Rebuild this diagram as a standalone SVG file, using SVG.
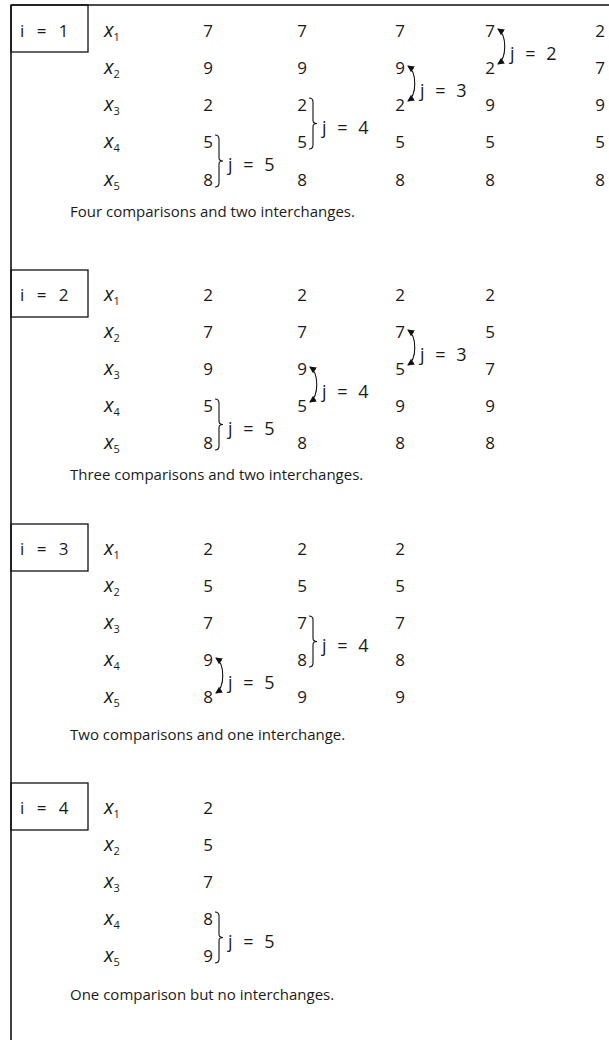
<svg xmlns="http://www.w3.org/2000/svg" width="609" height="1040" viewBox="0 0 609 1040">
<defs>
<style>
text{font-family:"Open Sans","Noto Sans","Liberation Sans",sans-serif;fill:#1a1a1a}
.d{font-size:17px;text-anchor:middle}
.xl{font-size:20px;font-style:italic}
.sub{font-size:11px;font-style:normal}
.lab{font-size:18px;word-spacing:6px}
.ib{font-size:17px;word-spacing:8px}
.s{font-size:15px}
.frame{fill:none;stroke:#111;stroke-width:1.6}
.box{fill:none;stroke:#111;stroke-width:1.3}
.br{fill:none;stroke:#111;stroke-width:1.1}
.ar{fill:none;stroke:#111;stroke-width:1.1;marker-start:url(#ah);marker-end:url(#ah)}
</style>
<marker id="ah" markerUnits="userSpaceOnUse" markerWidth="8" markerHeight="8" refX="6" refY="3.5" orient="auto-start-reverse"><path d="M0,0 L7,3.5 L0,7 z" fill="#111"/></marker>
</defs>
<rect width="609" height="1040" fill="#fff"/>
<g id="frame">
<path class="frame" d="M11,5 H609 M11,5 V1040"/>
</g>

<!-- Section 1 -->
<g id="pass1">
<g id="box1"><rect class="box" x="11" y="5" width="77" height="47"/><text class="ib" x="20" y="37">i = 1</text></g>
<g id="labels1">
<text x="104" y="37"><tspan class="xl">x</tspan><tspan class="sub" dy="4">1</tspan></text>
<text x="104" y="74"><tspan class="xl">x</tspan><tspan class="sub" dy="4">2</tspan></text>
<text x="104" y="111"><tspan class="xl">x</tspan><tspan class="sub" dy="4">3</tspan></text>
<text x="104" y="148"><tspan class="xl">x</tspan><tspan class="sub" dy="4">4</tspan></text>
<text x="104" y="186"><tspan class="xl">x</tspan><tspan class="sub" dy="4">5</tspan></text>
</g>
<g id="p1c1"><text class="d" x="208" y="37">7</text><text class="d" x="208" y="74">9</text><text class="d" x="208" y="111">2</text><text class="d" x="208" y="148">5</text><text class="d" x="208" y="186">8</text></g>
<g id="p1c2"><text class="d" x="302" y="37">7</text><text class="d" x="302" y="74">9</text><text class="d" x="302" y="111">2</text><text class="d" x="302" y="148">5</text><text class="d" x="302" y="186">8</text></g>
<g id="p1c3"><text class="d" x="400" y="37">7</text><text class="d" x="400" y="74">9</text><text class="d" x="400" y="111">2</text><text class="d" x="400" y="148">5</text><text class="d" x="400" y="186">8</text></g>
<g id="p1c4"><text class="d" x="490" y="37">7</text><text class="d" x="490" y="74">2</text><text class="d" x="490" y="111">9</text><text class="d" x="490" y="148">5</text><text class="d" x="490" y="186">8</text></g>
<g id="p1c5"><text class="d" x="600" y="37">2</text><text class="d" x="600" y="74">7</text><text class="d" x="600" y="111">9</text><text class="d" x="600" y="148">5</text><text class="d" x="600" y="186">8</text></g>
<text class="lab" x="228" y="171">j = 5</text>
<text class="lab" x="322" y="133.5">j = 4</text>
<text class="lab" x="420" y="96.5">j = 3</text>
<text class="lab" x="510" y="59.5">j = 2</text>
<text class="s" x="70" y="217">Four comparisons and two interchanges.</text>
</g>

<!-- Section 2 -->
<g id="pass2">
<g id="box2"><rect class="box" x="11" y="270" width="77" height="47"/><text class="ib" x="20" y="301">i = 2</text></g>
<g id="labels2">
<text x="104" y="301"><tspan class="xl">x</tspan><tspan class="sub" dy="4">1</tspan></text>
<text x="104" y="338"><tspan class="xl">x</tspan><tspan class="sub" dy="4">2</tspan></text>
<text x="104" y="375"><tspan class="xl">x</tspan><tspan class="sub" dy="4">3</tspan></text>
<text x="104" y="412"><tspan class="xl">x</tspan><tspan class="sub" dy="4">4</tspan></text>
<text x="104" y="449"><tspan class="xl">x</tspan><tspan class="sub" dy="4">5</tspan></text>
</g>
<g id="p2c1"><text class="d" x="208" y="301">2</text><text class="d" x="208" y="338">7</text><text class="d" x="208" y="375">9</text><text class="d" x="208" y="412">5</text><text class="d" x="208" y="449">8</text></g>
<g id="p2c2"><text class="d" x="302" y="301">2</text><text class="d" x="302" y="338">7</text><text class="d" x="302" y="375">9</text><text class="d" x="302" y="412">5</text><text class="d" x="302" y="449">8</text></g>
<g id="p2c3"><text class="d" x="400" y="301">2</text><text class="d" x="400" y="338">7</text><text class="d" x="400" y="375">5</text><text class="d" x="400" y="412">9</text><text class="d" x="400" y="449">8</text></g>
<g id="p2c4"><text class="d" x="490" y="301">2</text><text class="d" x="490" y="338">5</text><text class="d" x="490" y="375">7</text><text class="d" x="490" y="412">9</text><text class="d" x="490" y="449">8</text></g>
<text class="lab" x="228" y="434.5">j = 5</text>
<text class="lab" x="322" y="397.5">j = 4</text>
<text class="lab" x="420" y="360.5">j = 3</text>
<text class="s" x="70" y="480">Three comparisons and two interchanges.</text>
</g>

<!-- Section 3 -->
<g id="pass3">
<g id="box3"><rect class="box" x="11" y="524" width="77" height="47"/><text class="ib" x="20" y="555">i = 3</text></g>
<g id="labels3">
<text x="104" y="555"><tspan class="xl">x</tspan><tspan class="sub" dy="4">1</tspan></text>
<text x="104" y="592"><tspan class="xl">x</tspan><tspan class="sub" dy="4">2</tspan></text>
<text x="104" y="629"><tspan class="xl">x</tspan><tspan class="sub" dy="4">3</tspan></text>
<text x="104" y="666"><tspan class="xl">x</tspan><tspan class="sub" dy="4">4</tspan></text>
<text x="104" y="703"><tspan class="xl">x</tspan><tspan class="sub" dy="4">5</tspan></text>
</g>
<g id="p3c1"><text class="d" x="208" y="555">2</text><text class="d" x="208" y="592">5</text><text class="d" x="208" y="629">7</text><text class="d" x="208" y="666">9</text><text class="d" x="208" y="703">8</text></g>
<g id="p3c2"><text class="d" x="302" y="555">2</text><text class="d" x="302" y="592">5</text><text class="d" x="302" y="629">7</text><text class="d" x="302" y="666">8</text><text class="d" x="302" y="703">9</text></g>
<g id="p3c3"><text class="d" x="400" y="555">2</text><text class="d" x="400" y="592">5</text><text class="d" x="400" y="629">7</text><text class="d" x="400" y="666">8</text><text class="d" x="400" y="703">9</text></g>
<text class="lab" x="228" y="688.5">j = 5</text>
<text class="lab" x="322" y="651.5">j = 4</text>
<text class="s" x="70" y="740">Two comparisons and one interchange.</text>
</g>

<!-- Section 4 -->
<g id="pass4">
<g id="box4"><rect class="box" x="11" y="783" width="77" height="47"/><text class="ib" x="20" y="814">i = 4</text></g>
<g id="labels4">
<text x="104" y="814"><tspan class="xl">x</tspan><tspan class="sub" dy="4">1</tspan></text>
<text x="104" y="851"><tspan class="xl">x</tspan><tspan class="sub" dy="4">2</tspan></text>
<text x="104" y="888"><tspan class="xl">x</tspan><tspan class="sub" dy="4">3</tspan></text>
<text x="104" y="925"><tspan class="xl">x</tspan><tspan class="sub" dy="4">4</tspan></text>
<text x="104" y="962"><tspan class="xl">x</tspan><tspan class="sub" dy="4">5</tspan></text>
</g>
<g id="p4c1"><text class="d" x="208" y="814">2</text><text class="d" x="208" y="851">5</text><text class="d" x="208" y="888">7</text><text class="d" x="208" y="925">8</text><text class="d" x="208" y="962">9</text></g>
<text class="lab" x="228" y="947.5">j = 5</text>
<text class="s" x="70" y="1000">One comparison but no interchanges.</text>
</g>

<g id="connectors">
<path class="br" d="M215,135 q4,0 4,4 V158 q0,3 4,3 q-4,0 -4,3 V183 q0,4 -4,4"/>
<path class="br" d="M309,98 q4,0 4,4 V120.5 q0,3 4,3 q-4,0 -4,3 V145 q0,4 -4,4"/>
<path class="br" d="M215,399 q4,0 4,4 V421.5 q0,3 4,3 q-4,0 -4,3 V446 q0,4 -4,4"/>
<path class="br" d="M309,616 q4,0 4,4 V638.5 q0,3 4,3 q-4,0 -4,3 V663 q0,4 -4,4"/>
<path class="br" d="M215,912 q4,0 4,4 V934.5 q0,3 4,3 q-4,0 -4,3 V959 q0,4 -4,4"/>
<path class="ar" d="M408,66 C417,72 417,95 408,101"/>
<path class="ar" d="M498,29 C507,35 507,58 498,64"/>
<path class="ar" d="M310,367 C319,373 319,396 310,402"/>
<path class="ar" d="M408,330 C417,336 417,359 408,365"/>
<path class="ar" d="M216,658 C225,664 225,687 216,693"/>
</g>
</svg>
